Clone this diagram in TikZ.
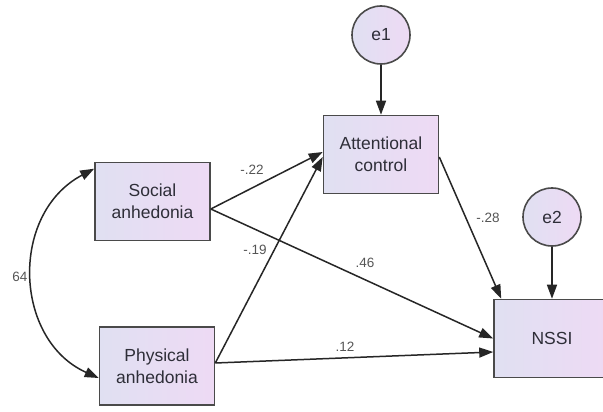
\documentclass[tikz,border=0pt]{standalone}
\usepackage{fontspec}
\setmainfont{Liberation Sans}
\usetikzlibrary{arrows.meta}
\definecolor{boxL}{HTML}{E0E0F2}
\definecolor{boxR}{HTML}{EEDAF4}
\definecolor{edge}{HTML}{4A4A4A}
\definecolor{ink}{HTML}{2E2E38}
\definecolor{lbl}{HTML}{555555}
\begin{document}
\begin{tikzpicture}[x=1pt,y=-1pt,
  var/.style={draw=edge, line width=1.6pt, left color=boxL, right color=boxR,
    minimum width=115pt, minimum height=78pt, inner sep=0pt, align=center,
    text=ink, font=\fontsize{17.5}{22}\selectfont},
  err/.style={circle, draw=edge, line width=1.6pt, left color=boxL, right color=boxR,
    minimum size=58pt, inner sep=0pt, text=ink, font=\fontsize{17.5}{22}\selectfont},
  path/.style={draw=black!85, line width=1.5pt, -{Triangle[length=14pt,width=10pt]}},
  both/.style={draw=black!85, line width=1.5pt,
    {Triangle[length=14pt,width=10pt]}-{Triangle[length=14pt,width=10pt]}},
  coef/.style={text=lbl, font=\fontsize{13.5}{16}\selectfont, inner sep=1pt}]
\fill[white] (0,0) rectangle (603,412);
\useasboundingbox (0,0) rectangle (603,412);

% observed variables
\node[var] (soc) at (152.5,201.5) {Social\\anhedonia};
\node[var] (phy) at (157,366) {Physical\\anhedonia};
\node[var] (att) at (381,154.5) {Attentional\\control};
\node[var, minimum width=116pt] (nssi) at (552,338.5) {NSSI};

% residuals
\node[err] (e1) at (381,35) {e1};
\node[err] (e2) at (552,217) {e2};

% structural paths
\draw[path] (e1.south) -- (att.north);
\draw[path] (e2.south) -- (nssi.north);
\draw[path] ([yshift=-7.5pt]soc.east) -- ([yshift=2.5pt]att.west);
\draw[path] ([yshift=3pt]phy.east) -- ([yshift=-2.5pt]att.west);
\draw[path] ([yshift=-7.5pt]soc.east) -- ([yshift=0pt]nssi.west);
\draw[path] ([yshift=3pt]phy.east) -- ([yshift=-13.5pt]nssi.west);
\draw[path] ([yshift=-2.5pt]att.east) -- ([xshift=8pt]nssi.north west);

% covariance between the predictors
\draw[both] ([yshift=-7pt]soc.north west) .. controls +(-85,45) and +(-85,-38) .. ([yshift=-12pt]phy.west);

% coefficients
\node[coef] (c1) at (252,170) {-.22};
\node[coef] (c2) at (255,250) {-.19};
\node[coef] (c3) at (365,263) {.46};
\node[coef] (c4) at (345,347) {.12};
\node[coef] (c5) at (488,218) {-.28};
\node[coef] (c6) at (20,277) {64};
\end{tikzpicture}
\end{document}
